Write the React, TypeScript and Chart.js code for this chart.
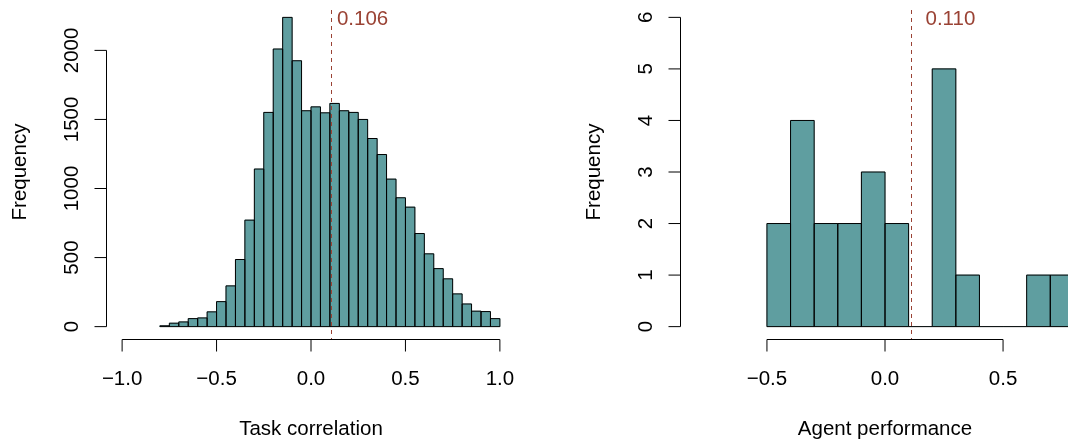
import React, { useEffect, useRef } from "react";
import { Chart, registerables } from "chart.js";

Chart.register(...registerables);

// ---------------- data ----------------
const taskBinStarts = [
  -0.8, -0.75, -0.7, -0.65, -0.6, -0.55, -0.5, -0.45, -0.4, -0.35, -0.3, -0.25,
  -0.2, -0.15, -0.1, -0.05, 0.0, 0.05, 0.1, 0.15, 0.2, 0.25, 0.3, 0.35,
  0.4, 0.45, 0.5, 0.55, 0.6, 0.65, 0.7, 0.75, 0.8, 0.85, 0.9, 0.95,
];
const taskCounts = [
  6, 25, 34, 58, 63, 107, 181, 295, 486, 771, 1141, 1551,
  2010, 2239, 1925, 1563, 1591, 1548, 1616, 1563, 1551, 1500, 1362, 1246,
  1068, 933, 865, 674, 527, 420, 346, 237, 164, 112, 109, 58,
];
const taskBinWidth = 0.05;
const taskMean = 0.106;
const taskMeanLabel = "0.106";
const taskXTicks = [-1.0, -0.5, 0.0, 0.5, 1.0];
const taskXTickLabels = ["\u22121.0", "\u22120.5", "0.0", "0.5", "1.0"];
const taskYTicks = [0, 500, 1000, 1500, 2000];
const taskYTickLabels = ["0", "500", "1000", "1500", "2000"];
const taskXLim = [-1.0, 1.0];
const taskYLim = [0, 2239];
const taskXTitle = "Task correlation";

const agentBinStarts = [-0.5, -0.4, -0.3, -0.2, -0.1, 0.0, 0.1, 0.2, 0.3, 0.4, 0.5, 0.6, 0.7];
const agentCounts = [2, 4, 2, 2, 3, 2, 0, 5, 1, 0, 0, 1, 1];
const agentBinWidth = 0.1;
const agentMean = 0.11;
const agentMeanLabel = "0.110";
const agentXTicks = [-0.5, 0.0, 0.5];
const agentXTickLabels = ["\u22120.5", "0.0", "0.5"];
const agentYTicks = [0, 1, 2, 3, 4, 5, 6];
const agentYTickLabels = ["0", "1", "2", "3", "4", "5", "6"];
const agentXLim = [-0.8, 0.8];
const agentYLim = [0, 6];
const agentXTitle = "Agent performance";

const yTitle = "Frequency";
const labelOffset = 0.167; // mean label centre, in x units right of the mean

// ---------------- styles ----------------
const FILL = "#5F9EA0";
const EDGE = "#000000";
const MEAN_COLOR = "#9A4234";
const FONT = "20.5px 'Liberation Sans', Arial, Helvetica, sans-serif";

type PanelCfg = {
  binStarts: number[];
  counts: number[];
  binWidth: number;
  mean: number;
  meanLabel: string;
  xTicks: number[];
  xTickLabels: string[];
  yTicks: number[];
  yTickLabels: string[];
  xLim: number[];
  yLim: number[];
  xTitle: string;
  padding: { left: number; right: number; top: number; bottom: number };
  canvasLeft: number;
  canvasWidth: number;
};

const ext = (lim: number[]) => {
  const d = (lim[1] - lim[0]) * 0.04;
  return [lim[0] - d, lim[1] + d];
};

function makePlugins(cfg: PanelCfg) {
  const outline = {
    id: "rOutline",
    afterDatasetsDraw(chart: any) {
      const ctx = chart.ctx;
      const meta = chart.getDatasetMeta(0);
      ctx.save();
      ctx.strokeStyle = EDGE;
      ctx.lineWidth = 1;
      meta.data.forEach((el: any) => {
        const p = el.getProps(["x", "y", "base", "width"], true);
        const left = p.x - p.width / 2;
        const top = Math.min(p.y, p.base);
        const h = Math.abs(p.base - p.y);
        ctx.beginPath();
        if (h < 0.01) {
          ctx.moveTo(left, p.base);
          ctx.lineTo(left + p.width, p.base);
        } else {
          ctx.rect(left, top, p.width, h);
        }
        ctx.stroke();
      });
      ctx.restore();
    },
  };

  const axes = {
    id: "rAxes",
    afterDraw(chart: any) {
      const { ctx, chartArea } = chart;
      const xs = chart.scales.x;
      const ys = chart.scales.y;
      ctx.save();
      ctx.strokeStyle = "#000";
      ctx.fillStyle = "#000";
      ctx.lineWidth = 1;
      ctx.font = FONT;

      // mean line
      const mx = Math.round(xs.getPixelForValue(cfg.mean)) + 0.5;
      ctx.save();
      ctx.strokeStyle = MEAN_COLOR;
      ctx.setLineDash([4, 4]);
      ctx.beginPath();
      ctx.moveTo(mx, chartArea.top + 5);
      ctx.lineTo(mx, chartArea.bottom + 1);
      ctx.stroke();
      ctx.restore();
      ctx.save();
      ctx.fillStyle = MEAN_COLOR;
      ctx.textAlign = "center";
      ctx.textBaseline = "alphabetic";
      ctx.fillText(cfg.meanLabel, xs.getPixelForValue(cfg.mean + labelOffset), chartArea.top + 20);
      ctx.restore();

      // x axis
      const ay = Math.round(chartArea.bottom) + 0.5;
      const x0 = xs.getPixelForValue(cfg.xTicks[0]);
      const x1 = xs.getPixelForValue(cfg.xTicks[cfg.xTicks.length - 1]);
      ctx.beginPath();
      ctx.moveTo(x0, ay);
      ctx.lineTo(x1, ay);
      cfg.xTicks.forEach((t) => {
        const px = xs.getPixelForValue(t);
        ctx.moveTo(px, ay);
        ctx.lineTo(px, ay + 12);
      });
      ctx.stroke();
      ctx.textAlign = "center";
      ctx.textBaseline = "alphabetic";
      cfg.xTicks.forEach((t, i) => {
        ctx.fillText(cfg.xTickLabels[i], xs.getPixelForValue(t), ay + 45.5);
      });
      ctx.fillText(cfg.xTitle, (chartArea.left + chartArea.right) / 2, ay + 95);

      // y axis
      const ax = Math.round(chartArea.left) - 0.5;
      const y0 = ys.getPixelForValue(cfg.yTicks[0]);
      const y1 = ys.getPixelForValue(cfg.yTicks[cfg.yTicks.length - 1]);
      ctx.beginPath();
      ctx.moveTo(ax, y0);
      ctx.lineTo(ax, y1);
      cfg.yTicks.forEach((t) => {
        const py = ys.getPixelForValue(t);
        ctx.moveTo(ax, py);
        ctx.lineTo(ax - 12, py);
      });
      ctx.stroke();
      cfg.yTicks.forEach((t, i) => {
        const py = ys.getPixelForValue(t);
        ctx.save();
        ctx.translate(ax - 29, py);
        ctx.rotate(-Math.PI / 2);
        ctx.fillText(cfg.yTickLabels[i], 0, 0);
        ctx.restore();
      });
      ctx.save();
      ctx.translate(ax - 81, (chartArea.top + chartArea.bottom) / 2);
      ctx.rotate(-Math.PI / 2);
      ctx.fillText(yTitle, 0, 0);
      ctx.restore();

      ctx.restore();
    },
  };
  return [outline, axes];
}

function Histogram({ cfg }: { cfg: PanelCfg }) {
  const ref = useRef<HTMLCanvasElement>(null);
  useEffect(() => {
    const xl = ext(cfg.xLim);
    const yl = ext(cfg.yLim);
    const data = cfg.binStarts.map((s, i) => ({ x: s + cfg.binWidth / 2, y: cfg.counts[i] }));
    const chart = new Chart(ref.current as HTMLCanvasElement, {
      type: "bar",
      data: {
        datasets: [
          {
            data: data as any,
            backgroundColor: FILL,
            borderWidth: 0,
            barPercentage: 1,
            categoryPercentage: 1,
          },
        ],
      },
      options: {
        responsive: false,
        animation: false,
        devicePixelRatio: 1,
        layout: { padding: cfg.padding },
        plugins: { legend: { display: false }, tooltip: { enabled: false } },
        scales: {
          x: { type: "linear", min: xl[0], max: xl[1], offset: false, display: false },
          y: { type: "linear", min: yl[0], max: yl[1], display: false },
        },
      },
      plugins: makePlugins(cfg) as any,
    });
    return () => chart.destroy();
  }, [cfg]);
  return (
    <canvas
      ref={ref}
      width={cfg.canvasWidth}
      height={441}
      style={{ position: "absolute", left: cfg.canvasLeft, top: 0, width: cfg.canvasWidth, height: 441, display: "block" }}
    />
  );
}

const taskCfg: PanelCfg = {
  binStarts: taskBinStarts,
  counts: taskCounts,
  binWidth: taskBinWidth,
  mean: taskMean,
  meanLabel: taskMeanLabel,
  xTicks: taskXTicks,
  xTickLabels: taskXTickLabels,
  yTicks: taskYTicks,
  yTickLabels: taskYTickLabels,
  xLim: taskXLim,
  yLim: taskYLim,
  xTitle: taskXTitle,
  padding: { left: 107, right: 19, top: 5, bottom: 102 },
  canvasLeft: 0,
  canvasWidth: 534,
};

const agentCfg: PanelCfg = {
  binStarts: agentBinStarts,
  counts: agentCounts,
  binWidth: agentBinWidth,
  mean: agentMean,
  meanLabel: agentMeanLabel,
  xTicks: agentXTicks,
  xTickLabels: agentXTickLabels,
  yTicks: agentYTicks,
  yTickLabels: agentYTickLabels,
  xLim: agentXLim,
  yLim: agentYLim,
  xTitle: agentXTitle,
  padding: { left: 147, right: 25, top: 5, bottom: 102 },
  canvasLeft: 534,
  canvasWidth: 580,
};

export default function App() {
  return (
    <div
      style={{
        position: "fixed",
        left: 0,
        top: 0,
        width: 1068,
        height: 441,
        overflow: "hidden",
        background: "#ffffff",
      }}
    >
      <Histogram cfg={taskCfg} />
      <Histogram cfg={agentCfg} />
    </div>
  );
}
